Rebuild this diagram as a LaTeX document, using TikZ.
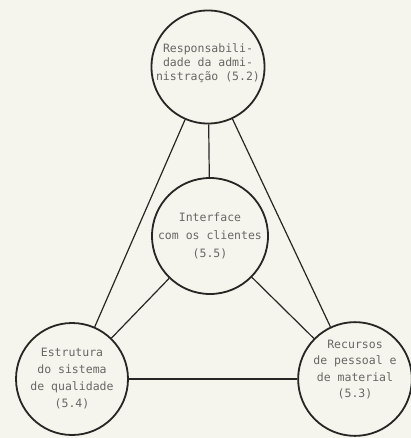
\documentclass[tikz,border=0pt]{standalone}
\usepackage{fontspec}
\setmainfont{DejaVu Sans Mono}
\usepackage{xcolor}
\definecolor{papel}{RGB}{245,245,237}
\definecolor{tinta}{RGB}{38,38,36}

\begin{document}
\begin{tikzpicture}[x=1pt,y=-1pt,
	bubble/.style={circle,draw=tinta,line width=1.8pt,inner sep=0pt,align=center,
		text=tinta!70,font=\fontsize{11.5}{17}\selectfont},
	link/.style={draw=tinta,line width=1.2pt}]
		\fill[papel] (0,0) rectangle (411,438);
		\useasboundingbox (0,0) rectangle (411,438);
		\node[bubble,minimum size=112pt,font=\fontsize{11.5}{14}\selectfont,text depth=9pt] (adm) at (208,67) {Responsabili-\\dade da admi-\\nistração (5.2)};
		\node[bubble,minimum size=116pt,font=\fontsize{11.5}{18}\selectfont] (cli) at (210,236) {Interface\\com os clientes\\(5.5)};
		\node[bubble,minimum size=112pt] (est) at (72,379) {Estrutura\\do sistema\\de qualidade\\(5.4)};
		\node[bubble,minimum size=112pt,font=\fontsize{11.5}{16.5}\selectfont,text depth=20pt] (rec) at (355,379) {Recursos\\de pessoal e\\de material\\(5.3)};
		\foreach \a/\b in {adm/cli,adm/est,adm/rec,cli/est,cli/rec,est/rec}
			\draw[link] (\a)--(\b);
	\end{tikzpicture}
\end{document}
